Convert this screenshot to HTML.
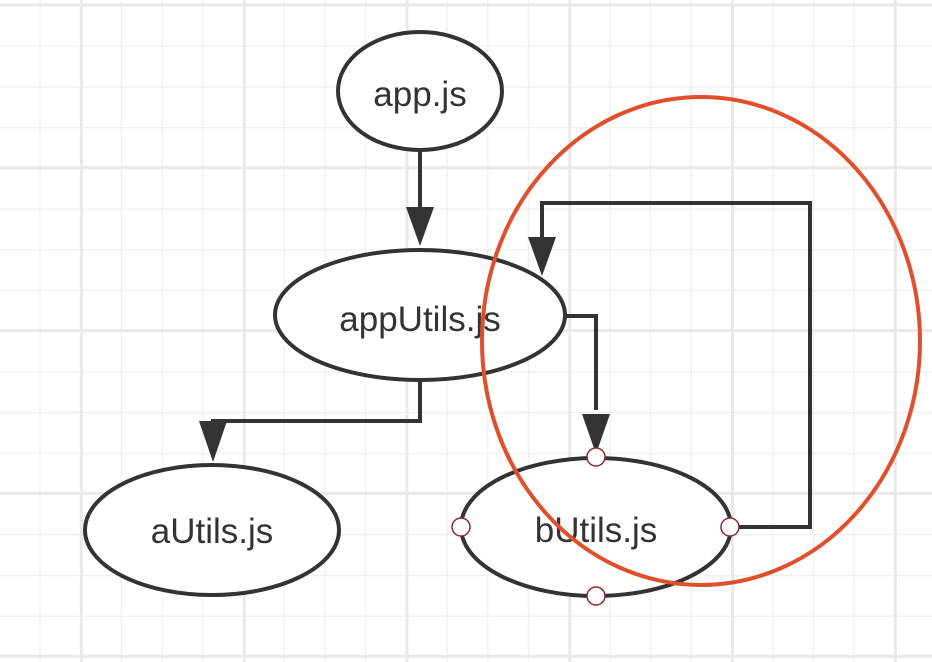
<!DOCTYPE html>
<html><head><meta charset="utf-8"><style>
html,body{margin:0;padding:0;background:#fff;}
svg{display:block;}
text{font-family:"Liberation Sans",sans-serif;font-size:35px;fill:#333;}
</style></head><body>
<svg width="932" height="662" viewBox="0 0 932 662" xmlns="http://www.w3.org/2000/svg">
<defs>
<pattern id="g" x="0" y="5" width="40.7" height="40.7" patternUnits="userSpaceOnUse">
<path d="M40.7 0V40.7M0 0H40.7" stroke="#efefef" stroke-width="2.5" fill="none"/>
</pattern>
</defs>
<rect width="932" height="662" fill="url(#g)"/>
<g stroke="#e9e9e9" stroke-width="3">
<line x1="81.4" y1="0" x2="81.4" y2="662"/><line x1="244.2" y1="0" x2="244.2" y2="662"/><line x1="407" y1="0" x2="407" y2="662"/><line x1="569.8" y1="0" x2="569.8" y2="662"/><line x1="732.6" y1="0" x2="732.6" y2="662"/><line x1="895.4" y1="0" x2="895.4" y2="662"/>
<line x1="0" y1="5" x2="932" y2="5"/><line x1="0" y1="167.8" x2="932" y2="167.8"/><line x1="0" y1="330.6" x2="932" y2="330.6"/><line x1="0" y1="493.4" x2="932" y2="493.4"/><line x1="0" y1="656.2" x2="932" y2="656.2"/>
</g>
<g stroke="#333" stroke-width="4" fill="none">
<path d="M420 150V210"/>
<path d="M420 380V421H213V425"/>
<path d="M565 316H596V410"/>
<path d="M730 527H810V203H542V240"/>
</g>
<g fill="#333">
<polygon points="406,207 434,207 420,246"/>
<polygon points="199,421 227,421 213,462"/>
<polygon points="582,414 610,414 596,454"/>
<polygon points="528,237 556,237 542,276"/>
</g>
<g fill="#fff" stroke="#333" stroke-width="4">
<ellipse cx="420" cy="91" rx="82" ry="59"/>
<ellipse cx="420" cy="315" rx="145" ry="65"/>
<ellipse cx="212" cy="530" rx="127" ry="65"/>
<ellipse cx="596" cy="527" rx="135" ry="69"/>
</g>
<text x="420" y="106" text-anchor="middle">app.js</text>
<text x="420" y="331" text-anchor="middle">appUtils.js</text>
<text x="212" y="543" text-anchor="middle">aUtils.js</text>
<text x="596" y="542" text-anchor="middle">bUtils.js</text>
<ellipse cx="701" cy="341" rx="219" ry="244" fill="none" stroke="#e04e2a" stroke-width="4"/>
<g fill="#fff" stroke="#8b2a2a" stroke-width="1.5">
<circle cx="596" cy="457" r="9"/>
<circle cx="596" cy="596" r="9"/>
<circle cx="461" cy="527" r="9"/>
<circle cx="730" cy="527" r="9"/>
</g>
</svg>
</body></html>
